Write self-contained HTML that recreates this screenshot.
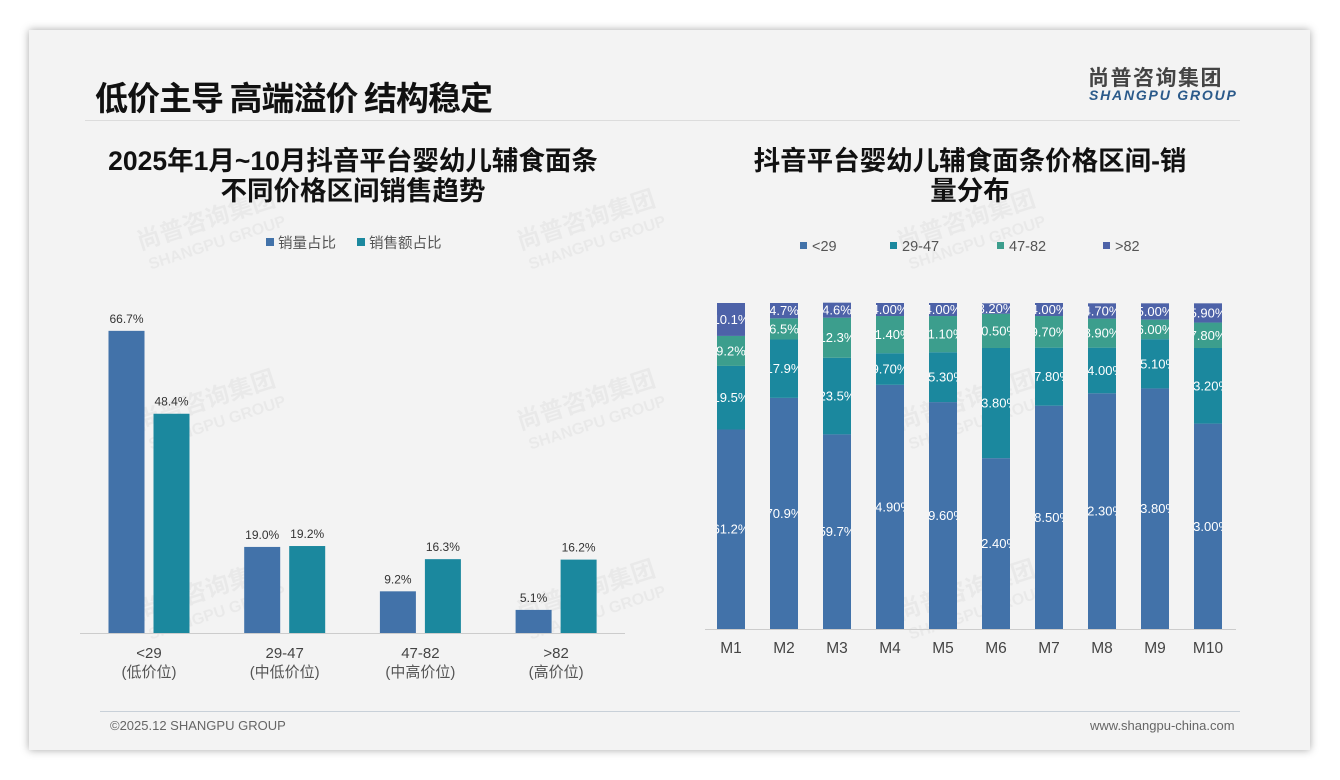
<!DOCTYPE html>
<html><head><meta charset="utf-8">
<style>
body{margin:0;width:1340px;height:780px;background:#fff;overflow:hidden;font-family:"Liberation Sans","Noto Sans CJK SC",sans-serif;}
#slide{position:absolute;left:29px;top:30px;width:1281px;height:720px;background:#f3f3f3;box-shadow:0 0 8px rgba(0,0,0,0.35);}
.abs{position:absolute;}
</style></head><body>
<div id="slide"></div>
<div class="abs" style="left:95px;top:72px;font-size:33px;font-weight:bold;color:#111;font-family:'Noto Sans CJK SC',sans-serif;letter-spacing:-1px;white-space:nowrap;">低价主导 高端溢价 结构稳定</div>
<div class="abs" style="left:85px;top:120px;width:1155px;height:1px;background:#dcdcdc;"></div>
<div class="abs" style="left:1088px;top:62px;font-size:21px;font-weight:bold;color:#444;font-family:'Noto Sans CJK SC',sans-serif;letter-spacing:1.5px;">尚普咨询集团</div>
<div class="abs" style="left:1089px;top:87px;font-size:14px;font-weight:bold;font-style:italic;color:#2b5a8a;letter-spacing:1.8px;">SHANGPU GROUP</div>
<div class="abs" style="left:100px;top:711px;width:1140px;height:1px;background:#c8d0d8;"></div>
<div class="abs" style="left:110px;top:718px;font-size:13px;color:#666;">©2025.12 SHANGPU GROUP</div>
<div class="abs" style="left:1090px;top:718px;font-size:13px;color:#666;">www.shangpu-china.com</div>

<svg class="abs" style="left:0;top:0" width="1340" height="780" id="chart"></svg>

<script>
// Left chart data
const leftCats = ["<29","29-47","47-82",">82"];
const leftSubs = ["(低价位)","(中低价位)","(中高价位)","(高价位)"];
const leftVol = [66.7,19.0,9.2,5.1];
const leftAmt = [48.4,19.2,16.3,16.2];
// Right chart data
const months = ["M1","M2","M3","M4","M5","M6","M7","M8","M9","M10"];
const sLow = [61.2,70.9,59.7,74.9,69.6,52.4,68.5,72.3,73.8,63.0];
const sMid = [19.5,17.9,23.5,9.7,15.3,33.8,17.8,14.0,15.1,23.2];
const sHigh = [9.2,6.5,12.3,11.4,11.1,10.5,9.7,8.9,6.0,7.8];
const sTop = [10.1,4.7,4.6,4.0,4.0,3.2,4.0,4.7,5.0,5.9];
const decimals = [1,1,1,2,2,2,2,2,2,2];

const NS="http://www.w3.org/2000/svg";
const svg=document.getElementById('chart');
function mk(tag,attrs,parent){const e=document.createElementNS(NS,tag);for(const k in attrs)e.setAttribute(k,attrs[k]);(parent||svg).appendChild(e);return e;}
function txt(x,y,s,size,fill,anchor,weight,parent){const t=mk('text',{x:x,y:y,'font-size':size,fill:fill,'text-anchor':anchor||'middle','font-family':'"Liberation Sans","Noto Sans CJK SC",sans-serif'},parent);if(weight)t.setAttribute('font-weight',weight);t.textContent=s;return t;}

const C1="#4272a9",C2="#1b889e",C3="#3c9e8d",C4="#4d62a8";

// watermarks
[[140,250],[520,250],[900,250],[140,430],[520,430],[900,430],[140,620],[520,620],[900,620]].forEach(p=>{
  const g=mk('g',{transform:`translate(${p[0]},${p[1]}) rotate(-18)`,opacity:0.035});
  
  txt(0,0,"尚普咨询集团",24,"#000","start","bold",g);
  txt(4,22,"SHANGPU GROUP",16,"#000","start","bold",g);
});

// titles
let t=txt(353,170,"2025年1月~10月抖音平台婴幼儿辅食面条",26.5,"#111","middle","bold");

t=txt(353,200,"不同价格区间销售趋势",26.5,"#111","middle","bold");

t=txt(970,170,"抖音平台婴幼儿辅食面条价格区间-销",26.5,"#111","middle","bold");

t=txt(970,200,"量分布",26.5,"#111","middle","bold");


// LEFT chart
const L={base:633,scale:4.53,x0:149,step:135.7,bw:36,gap:9};
function ly(v){return L.base-v*L.scale;}
// legend
let r=mk('rect',{x:266,y:238,width:8,height:8,fill:C1});
t=txt(278,248,"销量占比",14.5,"#555","start");
r=mk('rect',{x:357,y:238,width:8,height:8,fill:C2});
t=txt(369,248,"销售额占比",14.5,"#555","start");
leftCats.forEach((c,i)=>{
  const cx=L.x0+i*L.step;
  const x1=cx-L.gap/2-L.bw, x2=cx+L.gap/2;
  let b=mk('rect',{x:x1,y:ly(leftVol[i]),width:L.bw,height:leftVol[i]*L.scale,fill:C1});
  
  b=mk('rect',{x:x2,y:ly(leftAmt[i]),width:L.bw,height:leftAmt[i]*L.scale,fill:C2});
  
  let l=txt(x1+L.bw/2,ly(leftVol[i])-8,leftVol[i].toFixed(1)+"%",12,"#333");
  
  l=txt(x2+L.bw/2,ly(leftAmt[i])-8,leftAmt[i].toFixed(1)+"%",12,"#333");
  
  l=txt(cx,658,c,15,"#444");
  l=txt(cx,677,leftSubs[i],15,"#555");
});
let ax=mk('line',{x1:80,x2:625,y1:633.5,y2:633.5,stroke:"#ccc","stroke-width":1});


// RIGHT chart
const R={base:629,top:303,x0:731,step:53,bw:28};
const rs=(R.base-R.top)/100;
const series=[[sLow,C1,"<29"],[sMid,C2,"29-47"],[sHigh,C3,"47-82"],[sTop,C4,">82"]];
const legX=[800,890,997,1103];
series.forEach((s,k)=>{
  let sw=mk('rect',{x:legX[k],y:242,width:7,height:7,fill:s[1]});
  
  let lt=txt(legX[k]+12,251,s[2],14.5,"#555","start");
  
});
const defs=mk('defs',{});
months.forEach((m,i)=>{
  const cx=R.x0+i*R.step, x=cx-R.bw/2;
  const cp=mk('clipPath',{id:'cp'+i},defs);
  mk('rect',{x:x,y:0,width:R.bw,height:780},cp);
  let acc=0;
  series.forEach((s,k)=>{
    const v=s[0][i];
    const y1=R.base-(acc+v)*rs;
    let b=mk('rect',{x:x,y:y1,width:R.bw,height:v*rs,fill:s[1]});
    
    let l=txt(cx,y1+v*rs/2+4.5,v.toFixed(decimals[i])+"%",13,"#fff");
    l.setAttribute('clip-path','url(#cp'+i+')');
    
    acc+=v;
  });
  let ml=txt(cx,653,m,15.5,"#444");
});
ax=mk('line',{x1:705,x2:1236,y1:629.5,y2:629.5,stroke:"#ccc","stroke-width":1});

</script>
</body></html>
